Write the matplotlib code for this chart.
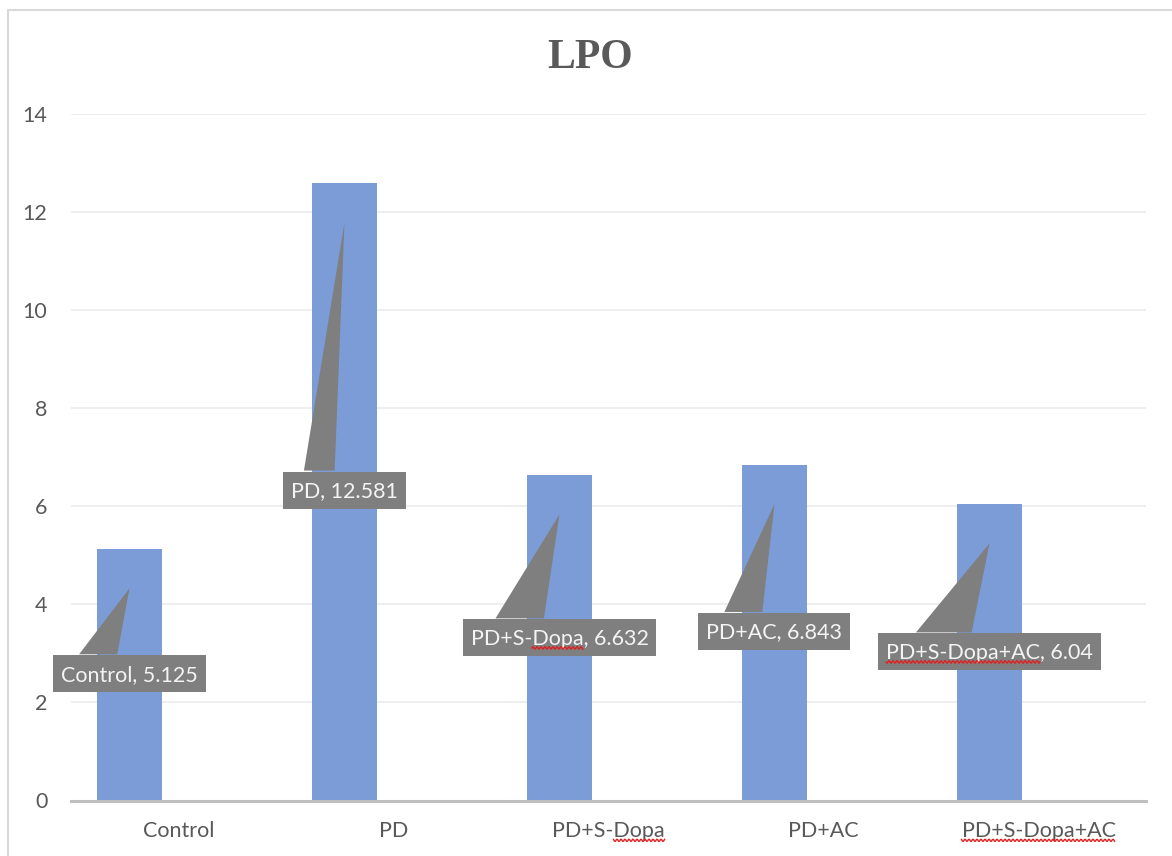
import matplotlib
matplotlib.use('Agg')
import matplotlib.pyplot as plt
from matplotlib.patches import Rectangle, Polygon
from matplotlib.lines import Line2D
from matplotlib.transforms import IdentityTransform
import numpy as np

# data
categories = ['Control', 'PD', 'PD+S-Dopa', 'PD+AC', 'PD+S-Dopa+AC']
lpo_values = [5.125, 12.581, 6.632, 6.843, 6.04]
y_ticks = [0, 2, 4, 6, 8, 10, 12, 14]

# how far each callout box sits below its pointer tip (pixels)
label_drop_px = [67, 249, 105, 109, 90]

# words flagged by the spell checker in the screenshot (prefix, flagged part)
flagged = {'PD+S-Dopa': ('PD+S-', 'Dopa'), 'PD+S-Dopa+AC': ('', 'PD+S-Dopa+AC')}

W, H, DPI = 1172, 856, 100
bar_color = '#7b9cd6'
callout_color = '#7f7f7f'
text_color = '#595959'
fsize = 15.5

plt.rcParams['font.family'] = ['Lato', 'DejaVu Sans']

fig = plt.figure(figsize=(W / DPI, H / DPI), dpi=DPI)
ax = fig.add_axes([71 / W, (H - 800.5) / H, (1146 - 71) / W, (800.5 - 113.7) / H])

x = np.arange(len(categories))
bar_offset = -0.228
bar_width = 0.30
ax.bar(x + bar_offset, lpo_values, width=bar_width, color=bar_color, zorder=2)

ax.set_xlim(-0.5, len(categories) - 0.5)
ax.set_ylim(0, 14)
ax.set_yticks(y_ticks)
ax.set_xticks(x)
ax.set_xticklabels(categories)
ax.tick_params(axis='both', length=0, labelsize=fsize, labelcolor=text_color)
ax.tick_params(axis='y', pad=17)
ax.tick_params(axis='x', pad=15)
ax.grid(axis='y', color='#ebebeb', lw=1.2, zorder=0)
for s in ['top', 'right', 'left']:
    ax.spines[s].set_visible(False)
ax.spines['bottom'].set_color('#bfbfbf')
ax.spines['bottom'].set_linewidth(2.2)
ax.spines['bottom'].set_zorder(3)

fig.text(590 / W, 1 - 58 / H, 'LPO', fontfamily='Liberation Serif', fontweight='bold',
         fontsize=30, color=text_color, ha='center', va='center')

fig.canvas.draw()
renderer = fig.canvas.get_renderer()
ident = IdentityTransform()


def text_width(s, size):
    if not s:
        return 0.0
    tmp = fig.text(0, 0, s, fontsize=size)
    w = tmp.get_window_extent(renderer).width
    tmp.remove()
    return w


def squiggle(x0, x1, y):
    xs = np.arange(x0, x1, 1.0)
    ys = y + 1.3 * np.sin(xs * np.pi / 2.0)
    fig.add_artist(Line2D(xs, ys, transform=ident, color='#e02020', lw=1.0, zorder=10))


def flag_text(t, s):
    # red wavy underline below the flagged part of a text object
    for key, (pre, word) in flagged.items():
        if s.startswith(key) and (s == key or s[len(key)] == ','):
            bb = t.get_window_extent(renderer)
            x0 = bb.x0 + text_width(pre, fsize)
            squiggle(x0, x0 + text_width(word, fsize), bb.y0 + 1)


# callout labels
box_h = 37
for i, (cat, val) in enumerate(zip(categories, lpo_values)):
    tx, ty = ax.transData.transform((x[i] + bar_offset, val - 0.8))
    box_top = ty - label_drop_px[i]
    s = '{0}, {1:g}'.format(cat, val)
    t = ax.text(tx, box_top - box_h / 2 - 1, s, transform=ident,
                ha='center', va='center', color='#f4f4f4', fontsize=fsize, zorder=6)
    w = t.get_window_extent(renderer).width + 16
    ax.add_patch(Rectangle((tx - w / 2, box_top - box_h), w, box_h, transform=ident,
                           facecolor=callout_color, edgecolor='none', zorder=5, clip_on=False))
    ax.add_patch(Polygon([(tx, ty), (tx - 0.33 * w, box_top + 1), (tx - 0.08 * w, box_top + 1)],
                         transform=ident, facecolor=callout_color, edgecolor='none',
                         zorder=5, clip_on=False))
    flag_text(t, s)

for lab in ax.get_xticklabels():
    flag_text(lab, lab.get_text())

# chart frame
fig.add_artist(Rectangle((8, -20), W + 20, H - 10 + 20, transform=ident, fill=False,
                         edgecolor='#d9d9d9', lw=1.5))

fig.savefig('out.png', dpi=DPI)
